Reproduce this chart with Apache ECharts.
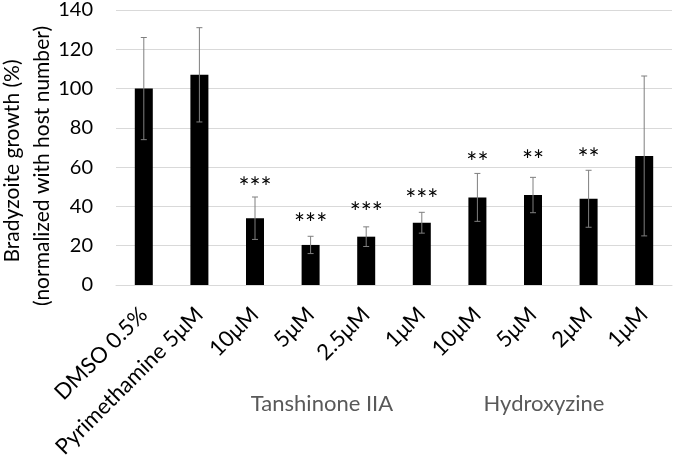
<!DOCTYPE html>
<html><head><meta charset="utf-8">
<script src="https://cdn.jsdelivr.net/npm/echarts@6/dist/echarts.min.js"></script>
<style>html,body{margin:0;padding:0;background:#fff}#c{width:675px;height:461px}</style>
</head><body><div id="c"></div>
<script>
const categories = ['DMSO 0.5%','Pyrimethamine 5μM','10μM','5μM','2.5μM','1μM','10μM','5μM','2μM','1μM'];
const growth = [100,107,34,20.4,24.6,31.7,44.6,45.8,43.9,65.7];
const errorSD = [26,24,10.8,4.4,5,5.3,12.2,9,14.5,40.7];
const sigMarks = ['','','***','***','***','***','**','**','**',''];
const sigLevel = [null,null,51.9,33.6,39.2,45.8,64.2,65.7,66.7,null];
const yMin = 0, yMax = 140, yStep = 20;
const groupLabels = ['Tanshinone IIA','Hydroxyzine'];
const yTitle = ['Bradyzoite growth (%)','(normalized with host number)'];

const FONT = 'Lato';
const SIG_FS = 26;
const errData = growth.map((v,i)=>[i, v - errorSD[i], v + errorSD[i]]);
const sigData = sigLevel.map((v,i)=> v==null ? null : [i, v, sigMarks[i]]).filter(d=>d);

const chart = echarts.init(document.getElementById('c'), null, {renderer:'canvas'});
chart.setOption({
  animation:false,
  backgroundColor:'#fff',
  grid:{left:116, right:3, top:10, bottom:176},
  xAxis:{
    type:'category', data:categories,
    axisLine:{show:true, lineStyle:{color:'#d9d9d9', width:1}},
    axisTick:{show:false},
    axisLabel:{rotate:45, margin:26, color:'#000', fontFamily:FONT, fontSize:22, interval:0}
  },
  yAxis:{
    type:'value', min:yMin, max:yMax, interval:yStep,
    axisLine:{show:false}, axisTick:{show:false},
    axisLabel:{margin:23, color:'#000', fontFamily:FONT, fontSize:20},
    splitLine:{lineStyle:{color:'#d9d9d9', width:1}}
  },
  series:[
    {type:'bar', data:growth, barWidth:18, itemStyle:{color:'#000'}, z:2},
    {type:'custom', data:errData, z:3,
     renderItem:function(params, api){
       const x = api.value(0);
       const lo = api.coord([x, api.value(1)]);
       const hi = api.coord([x, api.value(2)]);
       const cw = 3;
       const st = {stroke:'#7f7f7f', lineWidth:1};
       return {type:'group', children:[
         {type:'line', shape:{x1:lo[0], y1:lo[1], x2:hi[0], y2:hi[1]}, style:st},
         {type:'line', shape:{x1:lo[0]-cw, y1:lo[1], x2:lo[0]+cw, y2:lo[1]}, style:st},
         {type:'line', shape:{x1:hi[0]-cw, y1:hi[1], x2:hi[0]+cw, y2:hi[1]}, style:st}
       ]};
     }},
    {type:'custom', data:sigData, z:4,
     renderItem:function(params, api){
       const p = api.coord([api.value(0), api.value(1)]);
       return {type:'text', x:p[0], y:p[1] + SIG_FS*0.2, style:{text:sigMarks[sigData[params.dataIndex][0]], fontFamily:FONT, fontSize:SIG_FS, fill:'#000', align:'center', verticalAlign:'middle'}};
     }}
  ],
  graphic:[
    {type:'text', x:12, y:161, rotation:Math.PI/2, style:{text:yTitle[0], fontFamily:FONT, fontSize:21, fill:'#000', align:'center', verticalAlign:'middle'}},
    {type:'text', x:42, y:166, rotation:Math.PI/2, style:{text:yTitle[1], fontFamily:FONT, fontSize:21, fill:'#000', align:'center', verticalAlign:'middle'}},
    {type:'text', x:322, y:404, style:{text:groupLabels[0], fontFamily:FONT, fontSize:22, fill:'#595959', align:'center', verticalAlign:'middle'}},
    {type:'text', x:544, y:404, style:{text:groupLabels[1], fontFamily:FONT, fontSize:22, fill:'#595959', align:'center', verticalAlign:'middle'}}
  ]
});
</script></body></html>
